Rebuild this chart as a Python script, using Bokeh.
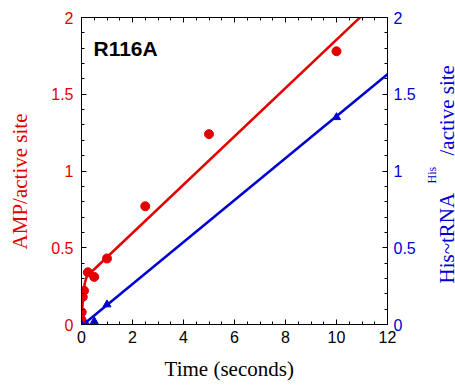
import math
from bokeh.plotting import figure
from bokeh.layouts import row
from bokeh.models import (Range1d, LinearAxis, SingleIntervalTicker, Label)
from bokeh.embed import file_html
from bokeh.resources import INLINE

# AMP data (red circles)
amp_t = [0.0, 0.01, 0.05, 0.1, 0.25, 0.5, 1.0, 2.5, 5.0, 10.0]
amp_y = [0.03, 0.08, 0.18, 0.22, 0.34, 0.31, 0.43, 0.77, 1.24, 1.78]
# AMP fit curve
amp_fit_t = [0.0, 0.03, 0.07, 0.13, 0.2, 0.3, 0.5, 12.0]
amp_fit_y = [0.0, 0.1, 0.2, 0.27, 0.31, 0.33, 0.36, 2.17]

# His~tRNA data (blue triangles)
his_t = [0.0, 0.2, 0.5, 1.0, 10.0]
his_y = [0.0, 0.0, 0.02, 0.13, 1.35]
his_fit_t = [0.0, 12.0]
his_fit_y = [-0.01, 1.63]

RED = "#e50000"
BLUE = "#0000d2"

p = figure(width=418, height=385, output_backend="svg", toolbar_location=None,
           x_range=Range1d(0, 12), y_range=Range1d(0, 2),
           min_border_left=81, min_border_right=29, min_border_top=17,
           min_border_bottom=61, x_axis_location=None, y_axis_location=None)
p.extra_y_ranges = {"his": Range1d(0, 2)}
p.grid.visible = False
p.outline_line_color = "black"
p.outline_line_width = 1
p.background_fill_color = "white"
p.border_fill_color = "white"

def style(ax, interval, minor):
    ax.ticker = SingleIntervalTicker(interval=interval, num_minor_ticks=minor)
    ax.major_tick_in = 5
    ax.major_tick_out = 0
    ax.minor_tick_in = 3
    ax.minor_tick_out = 0
    ax.axis_line_color = "black"
    ax.major_tick_line_color = "black"
    ax.minor_tick_line_color = "black"
    ax.major_label_text_font = "Liberation Sans"
    ax.major_label_text_font_size = "16px"
    ax.axis_label_text_font = "Liberation Serif"
    ax.axis_label_text_font_size = "21px"
    ax.axis_label_text_font_style = "normal"

ylabels = {0: "0", 0.5: "0.5", 1: "1", 1.5: "1.5", 2: "2"}

xb = LinearAxis(axis_label="Time (seconds)\u2002")
style(xb, 2, 4)
xb.major_label_standoff = 6
xb.axis_label_standoff = 11
xb.major_label_text_color = "black"
xb.axis_label_text_color = "black"
p.add_layout(xb, "below")

xt = LinearAxis()
style(xt, 2, 4)
xt.major_label_text_font_size = "0px"
xt.major_label_text_color = None
p.add_layout(xt, "above")

yl = LinearAxis(axis_label="AMP/active site\u2003")
style(yl, 0.5, 5)
yl.major_label_overrides = ylabels
yl.major_label_standoff = 8
yl.axis_label_standoff = 16
yl.major_label_text_color = RED
yl.axis_label_text_color = RED
p.add_layout(yl, "left")

yr = LinearAxis(y_range_name="his")
style(yr, 0.5, 5)
yr.major_label_overrides = ylabels
yr.major_label_standoff = 6
yr.major_label_text_color = BLUE
p.add_layout(yr, "right")

p.line(amp_fit_t, amp_fit_y, line_color=RED, line_width=2.5)
p.line(his_fit_t, his_fit_y, line_color=BLUE, line_width=2.5, y_range_name="his")
p.scatter(amp_t, amp_y, marker="circle", size=9, fill_color=RED, line_color=RED)
p.scatter(his_t, his_y, marker="triangle", size=8, fill_color=BLUE, line_color=BLUE,
          y_range_name="his")

# Screen units here are relative to the plot frame (bottom-left origin)
p.add_layout(Label(x=12, y=276, x_units="screen", y_units="screen",
                   text="R116A", text_font="Liberation Sans", text_font_size="21px",
                   text_font_style="bold", text_color="black",
                   text_baseline="alphabetic"))

# Narrow companion figure holding the right-hand axis title (with superscript)
q = figure(width=37, height=385, output_backend="svg", toolbar_location=None,
           x_range=Range1d(0, 1), y_range=Range1d(0, 1),
           min_border=0, x_axis_location=None, y_axis_location=None)
q.grid.visible = False
q.outline_line_color = None
q.background_fill_color = "white"
q.border_fill_color = "white"
for txt, lx, ly, fs in [("His~tRNA", 28, 41, "21px"),
                        ("His", 13, 141, "12px"),
                        ("/active site", 28, 169, "21px")]:
    q.add_layout(Label(x=lx, y=ly, x_units="screen", y_units="screen",
                       text=txt, angle=math.pi / 2, text_align="left",
                       text_baseline="middle", text_font="Liberation Serif",
                       text_font_size=fs, text_color=BLUE))

layout = row(p, q, spacing=0)
open("out.html", "w").write(file_html(layout, INLINE))
